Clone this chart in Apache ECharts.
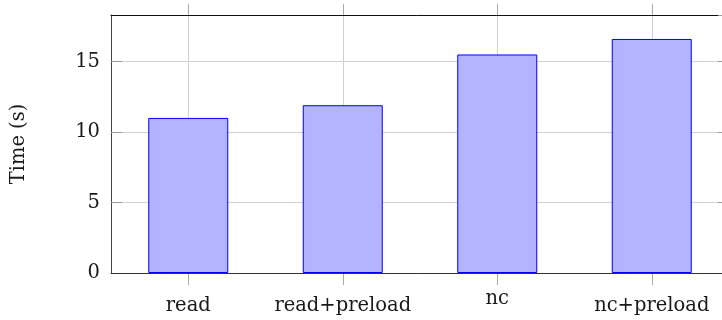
<!DOCTYPE html>
<html>
<head>
<meta charset="utf-8">
<script src="https://cdn.jsdelivr.net/npm/echarts@6/dist/echarts.min.js"></script>
<style>
html,body{margin:0;padding:0;background:#fff;}
#c{width:722px;height:320px;}
</style>
</head>
<body>
<div id="c"></div>
<script>
const categories = ['read', 'read+preload', 'nc', 'nc+preload'];
const times = [11.0, 11.9, 15.5, 16.6];
const yTicks = [0, 5, 10, 15];
const yName = 'Time (s)';

const FONT = 'DejaVu Serif';
const FS = 19.5;
const chart = echarts.init(document.getElementById('c'), null, {renderer: 'canvas'});

const catData = categories.map(c => c === 'nc'
  ? {value: c, textStyle: {padding: [0, 0, 0, 0]}}
  : {value: c});
// half-band helper categories so grid lines / ticks sit on category centres
const halfCats = [];
categories.forEach(c => { halfCats.push(c + '-a'); halfCats.push(c + '-b'); });
const oddOnly = idx => idx % 2 === 1;

const GRID = {left: 111, top: 15, width: 618, height: 258, containLabel: false, outerBoundsMode: 'none'};

chart.setOption({
  animation: false,
  grid: [Object.assign({}, GRID), Object.assign({}, GRID)],
  xAxis: [{
    gridIndex: 0,
    type: 'category',
    data: catData,
    position: 'bottom',
    boundaryGap: true,
    z: 3,
    axisLine: {show: true, lineStyle: {color: '#333', width: 1}},
    axisTick: {show: false},
    splitLine: {show: false},
    axisLabel: {interval: 0, color: '#1a1a1a', fontFamily: FONT, fontSize: FS, margin: 16, padding: [7, 0, 0, 0]}
  }, {
    gridIndex: 1,
    type: 'category',
    data: halfCats,
    position: 'bottom',
    boundaryGap: true,
    axisLine: {show: false},
    axisTick: {show: true, interval: oddOnly, inside: false, length: 12, lineStyle: {color: '#aaa'}},
    splitLine: {show: true, interval: oddOnly, lineStyle: {color: '#d0d0d0', width: 1}},
    axisLabel: {show: false}
  }, {
    gridIndex: 1,
    type: 'category',
    data: halfCats,
    position: 'top',
    boundaryGap: true,
    axisLine: {show: true, lineStyle: {color: '#111', width: 1}},
    axisTick: {show: true, interval: oddOnly, inside: false, length: 11, lineStyle: {color: '#aaa'}},
    axisLabel: {show: false},
    splitLine: {show: false}
  }],
  yAxis: [{
    gridIndex: 0,
    type: 'value',
    min: 0,
    max: 18.3,
    interval: 5,
    position: 'left',
    name: yName,
    nameLocation: 'middle',
    nameGap: 82,
    nameTextStyle: {color: '#1a1a1a', fontFamily: FONT, fontSize: FS},
    axisLine: {show: true, lineStyle: {color: '#444', width: 1}},
    axisTick: {show: true, inside: true, length: 11, lineStyle: {color: '#999'}},
    splitLine: {show: true, lineStyle: {color: '#d0d0d0', width: 1}},
    axisLabel: {
      color: '#1a1a1a', fontFamily: FONT, fontSize: FS, margin: 11,
      showMaxLabel: false,
      formatter: v => (yTicks.indexOf(v) >= 0 ? String(v) : '')
    }
  }, {
    gridIndex: 1,
    type: 'value',
    min: 0,
    max: 18.3,
    interval: 5,
    position: 'right',
    axisLine: {show: true, lineStyle: {color: '#444', width: 1}},
    axisTick: {show: true, inside: true, length: 11, lineStyle: {color: '#999'}},
    splitLine: {show: false},
    axisLabel: {show: false}
  }],
  series: [{
    type: 'bar',
    xAxisIndex: 0,
    yAxisIndex: 0,
    data: times,
    barWidth: 80,
    itemStyle: {color: '#b3b3ff', borderColor: '#0000ff', borderWidth: 1}
  }]
});
</script>
</body>
</html>
